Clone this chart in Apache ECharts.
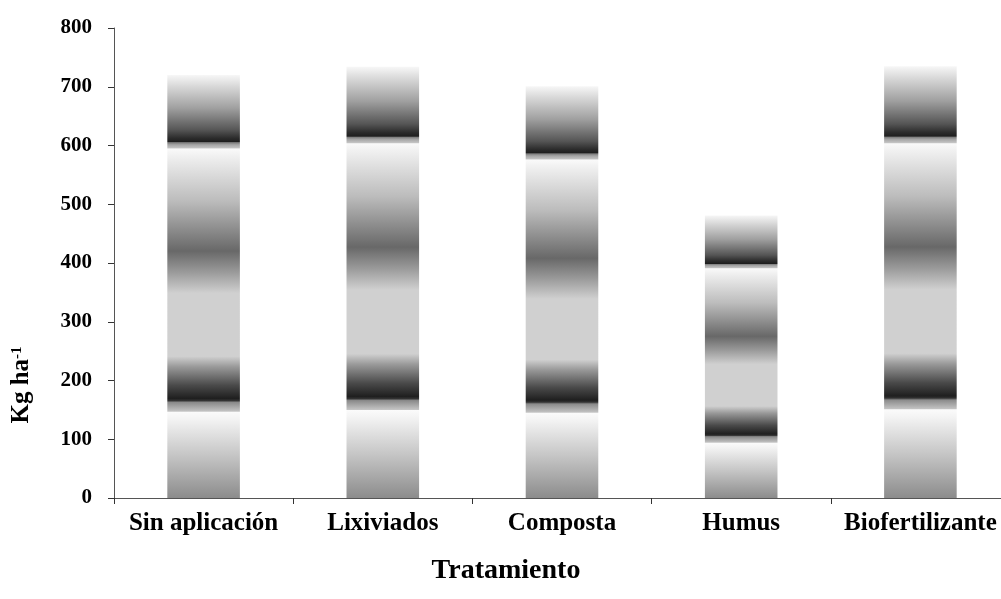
<!DOCTYPE html>
<html>
<head>
<meta charset="utf-8">
<script src="https://cdn.jsdelivr.net/npm/echarts@6/dist/echarts.min.js"></script>
<style>html,body{margin:0;padding:0;background:#fff;overflow:hidden;width:1001px;height:599px}#c{width:1010px;height:599px}</style>
</head>
<body>
<div id="c"></div>
<script>
var categories = ['Sin aplicación', 'Lixiviados', 'Composta', 'Humus', 'Biofertilizante'];
var segLower = [147, 150, 145, 94, 151];
var segMiddle = [448, 454, 431, 297, 453];
var segUpper = [125, 130, 125, 90, 131];
var yTicks = [0, 100, 200, 300, 400, 500, 600, 700, 800];

var G = echarts.graphic.LinearGradient;
function grad(stops){ return new G(0,0,0,1, stops.map(function(s){return {offset:s[0], color:s[1]};})); }

var gLower = grad([[0,'#fbfbfb'],[0.08,'#f4f4f4'],[0.5,'#c6c6c6'],[1,'#8c8c8c']]);
var gMiddle = grad([
  [0,'#fafafa'],[0.03,'#f0f0f0'],[0.2,'#bcbcbc'],[0.39,'#686868'],[0.47,'#9a9a9a'],
  [0.55,'#d0d0d0'],[0.79,'#d0d0d0'],[0.83,'#999999'],[0.9,'#4a4a4a'],[0.95,'#1f1f1f'],
  [0.958,'#333333'],[0.965,'#8a8a8a'],[1,'#c6c6c6']]);
var gUpper = grad([
  [0,'#f7f7f7'],[0.15,'#d9d9d9'],[0.45,'#a0a0a0'],[0.75,'#555555'],[0.86,'#2c2c2c'],
  [0.91,'#1e1e1e'],[0.92,'#7a7a7a'],[0.95,'#a5a5a5'],[1,'#c8c8c8']]);

var font = '"Liberation Serif", "Times New Roman", serif';
var chart = echarts.init(document.getElementById('c'), null, {renderer:'canvas', width: 1010, height: 599});
chart.setOption({
  animation: false,
  backgroundColor: '#ffffff',
  grid: { left: 114, right: 0, top: 28, bottom: 101, containLabel: false },
  xAxis: {
    type: 'category',
    data: categories,
    axisLine: { lineStyle: { color: '#555', width: 1 } },
    axisTick: { show: true, length: 6, lineStyle: { color: '#333' } },
    axisLabel: { color: '#000', fontFamily: font, fontWeight: 'bold', fontSize: 25, margin: 13, interval: 0 }
  },
  yAxis: {
    type: 'value',
    min: 0, max: 800, interval: 100,
    splitLine: { show: false },
    axisLine: { show: true, lineStyle: { color: '#555', width: 1 } },
    axisTick: { show: true, length: 6, lineStyle: { color: '#333' } },
    axisLabel: { color: '#000', fontFamily: font, fontWeight: 'bold', fontSize: 21, margin: 22,
      formatter: function(v){ return yTicks.indexOf(v) >= 0 ? String(v) : ''; } }
  },
  graphic: [{
    type: 'text', x: 22, y: 385, rotation: Math.PI / 2,
    style: {
      text: '{a|Kg ha}{b|-1}', align: 'center', verticalAlign: 'middle',
      rich: {
        a: { fontFamily: font, fontWeight: 'bold', fontSize: 25, fill: '#000' },
        b: { fontFamily: font, fontWeight: 'bold', fontSize: 15, fill: '#000', verticalAlign: 'top', padding: [0,0,10,0] }
      }
    }
  }, {
    type: 'text', x: 506, y: 571,
    style: { text: 'Tratamiento', font: 'bold 28px ' + font, fill: '#000', align: 'center', verticalAlign: 'middle' }
  }],
  series: [
    { type: 'bar', stack: 't', data: segLower, barWidth: '40.5%', itemStyle: { color: gLower } },
    { type: 'bar', stack: 't', data: segMiddle, barWidth: '40.5%', itemStyle: { color: gMiddle } },
    { type: 'bar', stack: 't', data: segUpper, barWidth: '40.5%', itemStyle: { color: gUpper } }
  ]
});
</script>
</body>
</html>
